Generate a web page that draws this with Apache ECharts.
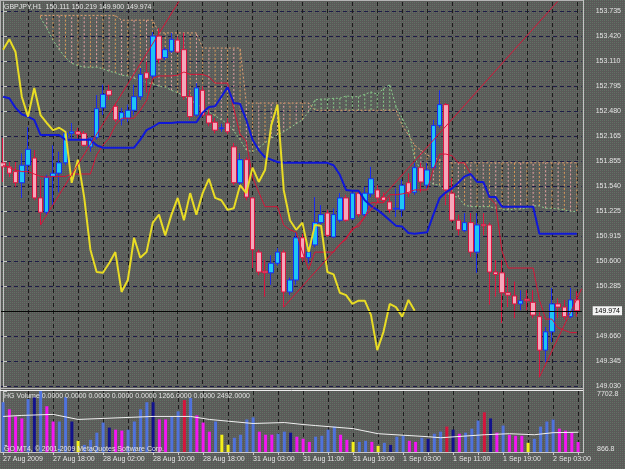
<!DOCTYPE html>
<html>
<head>
<meta charset="utf-8">
<script src="https://cdn.jsdelivr.net/npm/echarts@6/dist/echarts.min.js"></script>
<style>
html, body { margin: 0; padding: 0; background: #5b5b58; }
#chart { width: 625px; height: 469px; }
</style>
</head>
<body>
<div id="chart"></div>
<script>
// GBPJPY H1 with Ichimoku and HG Volume

const timeLabels = ['27 Aug 2009', '27 Aug 18:00', '28 Aug 02:00', '28 Aug 10:00', '28 Aug 18:00', '31 Aug 03:00',
  '31 Aug 11:00', '31 Aug 19:00', '1 Sep 03:00', '1 Sep 11:00', '1 Sep 19:00', '2 Sep 03:00'];
const priceTicks = [153.735, 153.420, 153.110, 152.795, 152.480, 152.165, 151.855, 151.540, 151.225,
  150.915, 150.600, 150.285, 149.660, 149.345, 149.030];
const lastPrice = 149.974;
const volTicks = [866.8, 7702.8];

const opens = [151.83,151.78,151.72,151.58,151.80,151.89,151.39,151.21,151.66,151.70,
  151.83,152.20,152.22,152.20,152.03,152.15,152.52,152.74,152.54,152.37,
  152.39,152.49,152.66,152.96,152.92,153.42,153.15,153.23,153.37,153.25,
  152.66,152.43,152.74,152.43,152.34,152.26,152.33,152.03,151.58,151.87,
  151.39,150.71,150.47,150.45,150.57,150.71,150.21,150.36,150.89,150.64,
  150.80,151.08,151.20,150.90,151.11,151.39,151.13,151.45,151.18,151.44,
  151.49,151.40,151.34,151.25,151.24,151.58,151.46,151.77,151.55,151.77,
  152.30,152.56,151.45,151.11,150.98,151.08,150.71,151.06,151.05,150.46,
  150.45,150.20,150.16,150.06,150.12,150.08,149.90,149.48,149.71,150.06,
  150.02,149.90,150.111];
const highs = [152.14,151.84,151.84,151.95,152.28,151.99,151.62,151.68,152.05,151.97,
  152.24,152.33,152.27,152.23,152.15,152.68,152.81,152.81,152.58,152.52,
  152.56,152.81,153.02,153.10,153.47,153.52,153.28,153.46,153.41,153.46,
  152.74,152.83,152.79,152.49,152.39,152.32,152.39,152.08,151.95,151.90,
  151.40,150.74,150.61,150.67,150.76,150.74,150.39,150.95,150.94,150.80,
  151.40,151.30,151.24,151.26,151.45,151.43,151.46,151.49,151.53,151.78,
  151.55,151.46,151.40,151.51,151.62,151.70,151.83,151.83,151.83,152.37,
  152.74,152.58,151.64,151.18,151.20,151.20,151.20,151.20,151.08,150.61,
  150.61,150.39,150.34,150.23,150.23,150.23,149.98,149.77,150.26,150.13,
  150.11,150.26,150.219];
const lows = [151.59,151.65,151.53,151.39,151.70,151.36,151.05,151.18,151.30,151.46,
  151.80,152.12,152.14,152.03,151.97,152.12,152.43,152.62,152.34,152.30,
  152.34,152.43,152.62,152.71,152.87,153.08,153.12,153.21,153.21,152.62,
  152.37,152.41,152.41,152.29,152.20,152.22,152.19,151.55,151.55,151.36,
  150.51,150.42,150.15,150.30,150.54,150.02,150.17,150.30,150.59,150.57,
  150.77,151.03,150.90,150.89,151.08,151.09,151.11,151.15,151.15,151.40,
  151.33,151.33,151.20,151.15,151.15,151.40,151.43,151.46,151.51,151.74,
  152.27,151.30,151.09,150.92,150.96,150.65,150.45,150.92,150.05,150.15,
  149.82,150.02,149.88,149.98,149.98,149.88,149.14,149.33,149.58,149.88,
  149.86,149.88,149.900];
const closes = [151.78,151.70,151.58,151.80,152.00,151.39,151.21,151.65,151.70,151.83,
  152.20,152.22,152.19,152.05,152.14,152.51,152.69,152.68,152.37,152.46,
  152.49,152.66,152.94,152.89,153.42,153.13,153.25,153.38,153.22,152.66,
  152.41,152.77,152.43,152.33,152.24,152.27,152.22,151.58,151.87,151.40,
  150.74,150.46,150.45,150.57,150.71,150.21,150.36,150.89,150.64,150.71,
  151.08,151.18,150.92,151.18,151.39,151.11,151.45,151.18,151.45,151.63,
  151.39,151.36,151.24,151.26,151.55,151.45,151.77,151.59,151.74,152.30,
  152.56,151.49,151.11,150.99,151.08,150.71,151.05,151.04,150.46,150.43,
  150.20,150.17,150.06,150.10,150.10,149.92,149.48,149.71,150.06,150.02,
  149.90,150.11,149.974];

const tenkan = [151.80,151.77,151.74,151.72,151.72,151.69,151.66,151.65,151.66,151.66,
  151.66,151.69,151.69,151.69,151.69,151.93,152.05,152.14,152.30,152.39,
  152.39,152.39,152.49,152.61,152.89,152.92,152.92,152.92,152.93,152.97,
  152.94,152.94,152.94,152.91,152.83,152.83,152.83,152.51,152.19,152.10,
  151.65,151.46,151.28,151.28,151.28,151.05,150.99,150.96,150.71,150.49,
  150.71,150.71,150.71,150.71,150.81,150.87,151.01,151.03,151.15,151.33,
  151.33,151.33,151.43,151.43,151.44,151.46,151.49,151.49,151.49,151.75,
  151.94,151.94,151.92,151.83,151.83,151.69,151.59,151.59,151.39,151.31,
  150.72,150.51,150.51,150.51,150.51,150.51,150.11,149.87,149.87,149.76,
  149.73,149.70,149.70];
const kijun = [152.66,152.64,152.52,152.44,152.41,152.37,152.18,152.18,152.18,152.18,
  152.12,152.12,152.12,152.12,152.12,152.05,152.02,152.02,152.02,152.02,
  152.02,152.02,152.12,152.24,152.28,152.33,152.33,152.33,152.34,152.34,
  152.34,152.34,152.46,152.53,152.54,152.66,152.78,152.58,152.57,152.37,
  152.12,151.99,151.90,151.87,151.84,151.83,151.83,151.83,151.83,151.83,
  151.83,151.83,151.83,151.80,151.68,151.49,151.48,151.48,151.36,151.29,
  151.24,151.18,151.11,151.04,151.03,150.95,150.94,150.95,150.96,151.18,
  151.39,151.46,151.51,151.58,151.66,151.69,151.59,151.59,151.40,151.40,
  151.28,151.28,151.28,151.28,151.28,151.28,150.94,150.94,150.94,150.94,
  150.94,150.94,150.94];
const spanA = [null,null,null,null,null,null,153.65,153.52,153.37,153.25,
  153.15,153.08,153.05,153.03,153.03,153.03,153.01,152.98,152.96,152.93,
  152.92,152.89,152.87,152.84,152.82,152.79,152.78,152.74,152.71,152.67,
  152.62,152.57,152.52,152.47,152.42,152.37,152.32,152.23,152.12,151.99,
  151.97,152.02,152.08,152.14,152.18,152.22,152.27,152.32,152.37,152.47,
  152.62,152.63,152.63,152.64,152.64,152.67,152.66,152.66,152.69,152.72,
  152.69,152.76,152.81,152.54,152.39,152.24,151.89,151.73,151.62,151.56,
  151.55,151.46,151.41,151.40,151.30,151.28,151.28,151.28,151.28,151.26,
  151.25,151.24,151.25,151.25,151.26,151.29,151.29,151.26,151.26,151.25,
  151.24,151.22,151.22];
const spanB = [null,null,null,null,null,null,153.68,153.68,153.68,153.68,
  153.68,153.68,153.68,153.68,153.68,153.68,153.68,153.68,153.68,153.62,
  153.62,153.62,153.62,153.62,153.62,153.46,153.46,153.46,153.46,153.46,
  153.46,153.46,153.27,153.27,153.27,153.27,153.27,153.27,153.27,152.58,
  152.58,152.58,152.58,152.58,152.58,152.58,152.58,152.58,152.58,152.58,
  152.49,152.49,152.49,152.49,152.49,152.49,152.49,152.49,152.49,152.49,
  152.49,152.49,152.49,152.49,152.30,152.18,152.05,151.99,151.93,151.89,
  151.87,151.83,151.83,151.83,151.83,151.83,151.83,151.83,151.83,151.83,
  151.83,151.83,151.83,151.83,151.83,151.83,151.83,151.83,151.83,151.83,
  151.83,151.83,151.83];

// trend lines: [bar, price] end points
const trendLines = [
  [[6, 151.05], [28.3, 153.87]],
  [[45, 150.02], [89.1, 153.87]],
  [[86, 149.14], [92.78, 150.25]]
];

const volumes = [6290,5390,4490,4240,6680,6930,7700,5780,3850,3850,
  6930,3850,1410,900,1540,2440,3720,3080,2820,2700,
  2820,3850,5390,6290,6290,4110,4110,4490,5140,6550,
  6810,4620,3720,2570,3850,2180,900,1800,2180,4110,
  4370,2570,2180,2180,2310,2570,2440,1930,1670,1280,
  1930,2050,2820,3210,2180,1540,1280,1280,1410,1280,
  770,1160,900,1930,2050,1410,1280,1800,1670,2310,
  2570,3210,2820,2310,2440,2950,3980,5010,4240,2440,
  3340,2180,2050,2050,1160,1670,3210,3850,4110,2950,
  2700,2440,1266];
// b = rising, m = falling, n = climax, r = churn, y = low
const volType = ('bmmmbnbmmbbnybbbbnmmbbbbnmmbbrbmmmbyybbbbmmmbbnmmmb' +
  'bbbmmybbmybnbbmmbnbbrnmbbbrnmbmmmybbbbmmmm').split('');
const volAvg = [[0,4490],[3,4620],[8,4750],[12,4110],[16,4240],[24,4490],[30,4490],[33,4110],
  [40,3600],[45,3720],[48,3470],[50,3340],[56,2950],[60,2310],[68,1930],[70,1800],
  [77,2180],[81,2310],[85,2180],[88,2440],[92,2492]];

const FONT = 'Liberation Sans';
const TEXT = '#e4e4e4';
const volColors = { b: '#4f72dc', m: '#f414f4', n: '#12128c', r: '#d6143c', y: '#f4f018' };

const bars = opens.map((o, i) => i);
const gridCols = bars.filter(i => i % 4 === 0);
const labelCols = timeLabels.map((t, k) => k * 8);
const gridRows = priceTicks.concat([lastPrice]);

const candleData = bars.map(i => [i, opens[i], closes[i], lows[i], highs[i]]);
const chikou = closes.slice(26).map((c, i) => [i, c]);
const cloudData = bars.filter(i => spanA[i] != null).map(i => [i, spanA[i], spanB[i]]);

// dotted grey background like the terminal
const tex = document.createElement('canvas');
tex.width = 4; tex.height = 4;
const tg = tex.getContext('2d');
tg.fillStyle = '#5a5a58'; tg.fillRect(0, 0, 4, 4);
tg.fillStyle = '#5e7464'; tg.fillRect(0, 0, 1, 1); tg.fillRect(2, 2, 1, 1);
tg.fillStyle = '#6a6a68'; tg.fillRect(2, 0, 1, 1); tg.fillRect(0, 2, 1, 1);

const xMin = -0.496, xMax = 92.784;
const dashV = { show: true, lineStyle: { color: '#1c1c1c', type: [4, 3], width: 1 } };

function renderCloud(params, api) {
  const i = api.value(0);
  const a = api.value(1), b = api.value(2);
  const p1 = api.coord([i, a]);
  const p2 = api.coord([i, b]);
  let stroke = a > b ? '#86c886' : (i % 2 ? '#e6a2a2' : '#dc9c5a');
  return {
    type: 'line',
    shape: { x1: p1[0], y1: p1[1], x2: p2[0], y2: p2[1] },
    style: { stroke: stroke, lineWidth: 1, lineDash: [2, 2] }
  };
}

function textEl(str, x, y, color) {
  return { type: 'text', x: x, y: y, z: 200, silent: true,
    style: { text: str, fill: color || TEXT, fontSize: 7, fontFamily: FONT, verticalAlign: 'middle' } };
}
function lineEl(x1, y1, x2, y2, color) {
  return { type: 'line', z: 150, silent: true, shape: { x1: x1, y1: y1, x2: x2, y2: y2 },
    style: { stroke: color, lineWidth: 1 } };
}

const chart = echarts.init(document.getElementById('chart'));
chart.setOption({
  animation: false,
  backgroundColor: { image: tex, repeat: 'repeat' },
  grid: [
    { left: 0, right: 42, top: 2, height: 385 },
    { left: 0, right: 42, top: 391, height: 61 }
  ],
  xAxis: [
    { type: 'value', gridIndex: 0, min: xMin, max: xMax,
      axisLine: { show: false }, axisLabel: { show: false },
      axisTick: { show: false, customValues: gridCols },
      splitLine: dashV },
    { type: 'value', gridIndex: 1, min: xMin, max: xMax,
      axisLine: { show: true, lineStyle: { color: '#c8c8c8' } },
      axisTick: { show: true, length: 3, customValues: gridCols, lineStyle: { color: '#c8c8c8' } },
      axisLabel: { customValues: labelCols, align: 'left', margin: 4, color: TEXT, fontSize: 7, fontFamily: FONT,
        formatter: v => timeLabels[Math.round(v / 8)] },
      splitLine: dashV }
  ],
  yAxis: [
    { type: 'value', gridIndex: 0, position: 'right', min: 149.0175, max: 153.848,
      axisLine: { show: true, lineStyle: { color: '#c4c4c4' } },
      axisTick: { show: true, length: 4, customValues: gridRows, lineStyle: { color: '#c4c4c4' } },
      axisLabel: { customValues: priceTicks, margin: 14, color: TEXT, fontSize: 7, fontFamily: FONT,
        formatter: v => v.toFixed(3) },
      splitLine: { show: true, lineStyle: { color: '#1c1c46', type: [4, 3], width: 1 } } },
    { type: 'value', gridIndex: 0, position: 'right', min: 149.0175, max: 153.848,
      axisLine: { show: false }, axisTick: { show: false }, splitLine: { show: false },
      axisLabel: { customValues: [lastPrice], margin: 11, color: '#000', backgroundColor: '#f4f4f4',
        padding: [1, 2, 1, 2], fontSize: 7, fontFamily: FONT, formatter: v => v.toFixed(3) } },
    { type: 'value', gridIndex: 1, position: 'right', min: 0, max: 7702.8,
      axisLine: { show: true, lineStyle: { color: '#c4c4c4' } },
      axisTick: { show: true, length: 4, customValues: volTicks, lineStyle: { color: '#c4c4c4' } },
      axisLabel: { customValues: volTicks, margin: 14, color: TEXT, fontSize: 7, fontFamily: FONT,
        verticalAlign: 'top', formatter: v => v.toFixed(1) },
      splitLine: { show: false } }
  ],
  series: [
    { type: 'custom', name: 'Kumo', xAxisIndex: 0, yAxisIndex: 0, z: 1,
      renderItem: renderCloud, data: cloudData, encode: { x: 0, y: [1, 2] } },
    { type: 'line', name: 'Senkou A', xAxisIndex: 0, yAxisIndex: 0, z: 1, symbol: 'none',
      data: bars.map(i => [i, spanA[i]]), lineStyle: { color: '#8ccc8c', width: 1, type: [2, 2] } },
    { type: 'line', name: 'Senkou B', xAxisIndex: 0, yAxisIndex: 0, z: 1, symbol: 'none',
      data: bars.map(i => [i, spanB[i]]), lineStyle: { color: '#e4a070', width: 1, type: [2, 2] } },
    { type: 'candlestick', name: 'GBPJPY', xAxisIndex: 0, yAxisIndex: 0, z: 2, barWidth: 5,
      data: candleData, clip: false,
      itemStyle: { color: '#1ec6f4', color0: '#f4a8ba', borderColor: '#1a2cf0', borderColor0: '#dc1440', borderWidth: 1 },
      markLine: { silent: true, symbol: ['none', 'none'], label: { show: false },
        lineStyle: { color: '#060606', type: 'solid', width: 1 }, data: [{ yAxis: lastPrice }] } },
    { type: 'line', name: 'Tenkan', xAxisIndex: 0, yAxisIndex: 0, z: 3, symbol: 'none',
      data: bars.map(i => [i, tenkan[i]]), lineStyle: { color: '#d81438', width: 1 } },
    { type: 'line', name: 'Kijun', xAxisIndex: 0, yAxisIndex: 0, z: 3, symbol: 'none',
      data: bars.map(i => [i, kijun[i]]), lineStyle: { color: '#1018d8', width: 2 } },
    { type: 'line', name: 'Chikou', xAxisIndex: 0, yAxisIndex: 0, z: 3, symbol: 'none',
      data: chikou, lineStyle: { color: '#e8dc24', width: 2 } }
  ].concat(trendLines.map(seg => ({
    type: 'line', xAxisIndex: 0, yAxisIndex: 0, z: 3, symbol: 'none',
    data: seg, lineStyle: { color: '#d81438', width: 1 }
  }))).concat([
    { type: 'bar', name: 'HG Volume', xAxisIndex: 1, yAxisIndex: 2, barWidth: 3,
      data: bars.map(i => [i, volumes[i]]),
      itemStyle: { color: p => volColors[volType[p.dataIndex]] } },
    { type: 'line', name: 'Volume MA', xAxisIndex: 1, yAxisIndex: 2, symbol: 'none', z: 3,
      data: volAvg, lineStyle: { color: '#f0f0f0', width: 1 } }
  ]),
  graphic: [
    lineEl(0, 0.5, 583, 0.5, '#b4b4b4'),
    lineEl(0.5, 0, 0.5, 453, '#b4b4b4'),
    lineEl(583.5, 0, 583.5, 453, '#c4c4c4'),
    lineEl(0, 388.5, 583, 388.5, '#bcbcbc'),
    lineEl(0, 390.5, 583, 390.5, '#eeeeee'),
    textEl('GBPJPY,H1  150.111 150.219 149.900 149.974', 4, 7),
    textEl('HG Volume 0.0000 0.0000 0.0000 0.0000 0.0000 1266.0000 0.0000 2492.0000', 4, 396),
    textEl('GO MT4, \u00a9 2001-2009 MetaQuotes Software Corp.', 4, 449)
  ]
});
</script>
</body>
</html>
